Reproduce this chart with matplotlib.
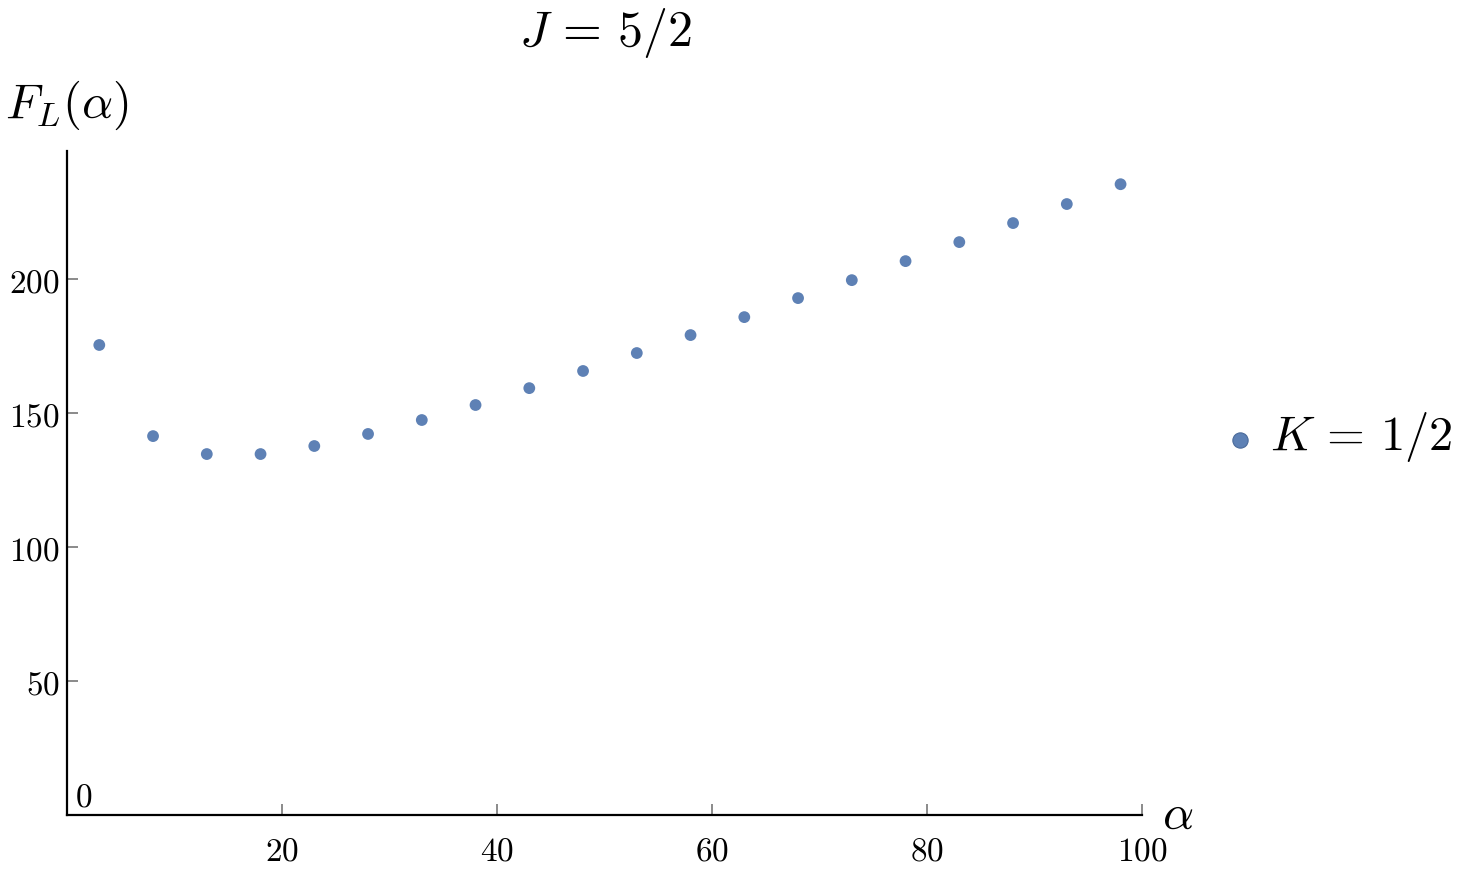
import numpy as np
import matplotlib.pyplot as plt

plt.rcParams["mathtext.fontset"] = "cm"
plt.rcParams["font.family"] = "serif"
plt.rcParams["font.serif"] = ["DejaVu Serif"]

# alpha values and F_L(alpha), K = 1/2, J = 5/2
alpha = [3, 8, 13, 18, 23, 28, 33, 38, 43, 48, 53, 58, 63, 68, 73, 78, 83, 88, 93, 98]
F_L = [175.4, 141.4, 134.7, 134.7, 137.7, 142.2, 147.4, 153.0, 159.3, 165.7,
       172.4, 179.1, 185.8, 192.9, 199.6, 206.7, 213.8, 220.9, 228.0, 235.4]

xticks = [20, 40, 60, 80, 100]
yticks = [50, 100, 150, 200]

color = "#5e81b5"

fig = plt.figure(figsize=(14.67, 8.78), dpi=100)
ax = fig.add_axes([0.0457, 0.0706, 0.7328, 0.7563])

ax.scatter(alpha, F_L, s=72, color=color, edgecolors="none", zorder=3)

ax.set_xlim(0, 100)
ax.set_ylim(0, 247.8)
ax.spines["top"].set_visible(False)
ax.spines["right"].set_visible(False)
for s in ("left", "bottom"):
    ax.spines[s].set_linewidth(1.6)

ax.set_xticks(xticks)
ax.set_xticklabels([f"${t}$" for t in xticks])
ax.set_yticks(yticks)
ax.set_yticklabels([f"${t}$" for t in yticks])
ax.tick_params(direction="in", length=8, width=1.2, color="#777777",
               labelsize=24)
ax.tick_params(axis="x", pad=14)
ax.tick_params(axis="y", pad=5)

ax.text(0.007, 0.004, "$0$", transform=ax.transAxes, fontsize=24,
        ha="left", va="bottom")

fig.text(1178 / 1467, 1 - 815 / 878, r"$\alpha$", fontsize=35,
         ha="center", va="center")
fig.text(67 / 1467, 1 - 105 / 878, r"$F_L(\alpha)$", fontsize=35,
         ha="center", va="center")
fig.text(606 / 1467, 1 - 33 / 878, r"$J\,=\,5/2$", fontsize=36,
         ha="center", va="center")

# legend
fig.lines.append(plt.Line2D([1240 / 1467], [1 - 441 / 878], marker="o",
                            markersize=11, color=color, mec="#4a6a9a",
                            mew=0.8, transform=fig.transFigure))
fig.text(1270 / 1467, 1 - 437 / 878, r"$K\,=\,1/2$", fontsize=35,
         ha="left", va="center")

fig.savefig("out.png", dpi=100)
